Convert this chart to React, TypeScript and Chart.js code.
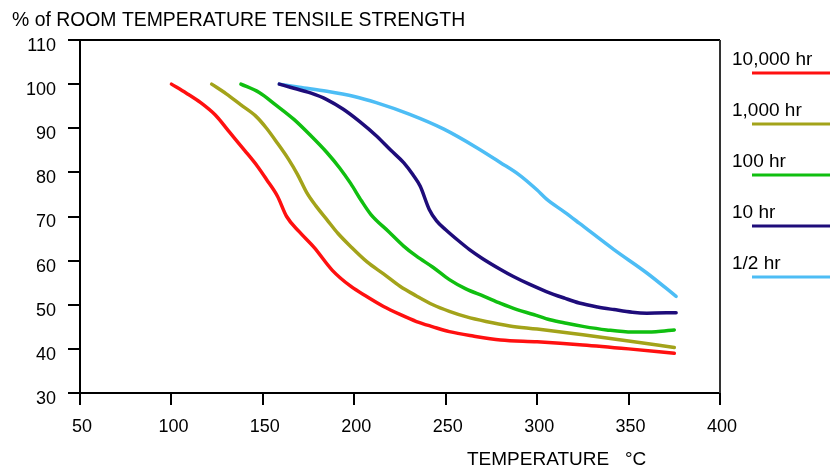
import React, { useEffect, useRef } from "react";
import { Chart, registerables } from "chart.js";

Chart.register(...registerables);

// Temperatures (°C) and % of room-temperature tensile strength per exposure time
const hr10000T = [100, 108, 116, 124, 132, 140, 147, 152, 158, 163, 170, 178, 188, 198, 207, 216, 225, 234, 243, 252, 265, 280, 300, 325, 350, 375];
const hr10000V = [100, 98, 95.8, 93, 89, 85, 81.4, 78.4, 74.6, 70, 66.5, 63, 57.8, 54.2, 51.8, 49.6, 47.8, 46.2, 45, 43.9, 42.9, 42, 41.6, 40.9, 40, 39];

const hr1000T = [122, 130, 138, 146, 152, 158, 164, 169, 174, 179, 185, 191, 198, 207, 216, 225, 234, 243, 252, 261, 272, 285, 300, 325, 350, 375];
const hr1000V = [100, 97.8, 95.3, 92.8, 90, 86.6, 83, 79.5, 75.4, 72.4, 69.3, 66.2, 63.2, 59.7, 57, 54.2, 52, 50, 48.5, 47.3, 46.2, 45.2, 44.5, 43.2, 41.8, 40.3];

const hr100T = [138, 148, 157, 167, 176, 185, 192, 198, 204, 209, 219, 227, 234, 243, 252, 261, 271, 280, 289, 298, 307, 316, 325, 338, 352, 365, 375];
const hr100V = [100, 98.1, 95.3, 92, 88.4, 84.5, 81, 77.5, 73.5, 70.5, 66.5, 63.3, 61, 58.5, 55.7, 53.6, 51.9, 50.3, 48.9, 47.8, 46.6, 45.8, 45.1, 44.3, 43.8, 43.9, 44.3];

const hr10T = [159, 165, 176, 185, 194, 203, 212, 220, 227, 232, 236, 241, 245, 250, 257, 263, 270, 280, 287, 296, 305, 315, 323, 333, 342, 352, 360, 376];
const hr10V = [100, 99.3, 98, 96.5, 94.3, 91.5, 88.3, 85, 82.2, 79.5, 76.9, 71.6, 69, 67, 64.5, 62.5, 60.5, 58, 56.4, 54.6, 53, 51.5, 50.4, 49.5, 48.9, 48.3, 48.1, 48.2];

const hrHalfT = [159, 170, 185, 200, 212, 230, 249, 267, 280, 290, 300, 305, 315, 323, 342, 360, 376];
const hrHalfV = [100, 99.3, 98.4, 97.2, 95.8, 93.2, 89.8, 85.6, 82.2, 79.5, 76, 74, 71, 68.5, 62.5, 57.2, 51.9];

const seriesLabels = ["10,000 hr", "1,000 hr", "100 hr", "10 hr", "1/2 hr"];
const seriesColors = ["#ff1010", "#a3a31a", "#10bf10", "#1e0c7a", "#4dbdf5"];

const xTicks = [50, 100, 150, 200, 250, 300, 350, 400];
const yTicks = [30, 40, 50, 60, 70, 80, 90, 100, 110];

const yTitle = "% of ROOM TEMPERATURE TENSILE STRENGTH";
const xTitle = "TEMPERATURE   °C";

const FONT = "'Liberation Sans', Arial, sans-serif";

const zip = (t: number[], v: number[]) => t.map((x, i) => ({ x, y: v[i] }));

export default function App() {
  const ref = useRef<HTMLCanvasElement | null>(null);

  useEffect(() => {
    if (!ref.current) return;
    const seriesT = [hr10000T, hr1000T, hr100T, hr10T, hrHalfT];
    const seriesV = [hr10000V, hr1000V, hr100V, hr10V, hrHalfV];

    const decor = {
      id: "decor",
      afterDraw(chart: any) {
        const { ctx, chartArea } = chart;
        ctx.save();
        // top & right frame
        ctx.strokeStyle = "#000";
        ctx.lineWidth = 2;
        ctx.beginPath();
        ctx.moveTo(chartArea.left, chartArea.top);
        ctx.lineTo(chartArea.right, chartArea.top);
        ctx.stroke();
        ctx.strokeStyle = "#333";
        ctx.beginPath();
        ctx.moveTo(chartArea.right, chartArea.top);
        ctx.lineTo(chartArea.right, chartArea.bottom);
        ctx.stroke();
        // titles
        ctx.fillStyle = "#000";
        ctx.font = `19.4px ${FONT}`;
        ctx.textBaseline = "middle";
        ctx.textAlign = "left";
        ctx.fillText(yTitle, 12, 21);
        ctx.font = `19px ${FONT}`;
        ctx.fillText(xTitle, 467, 460);
        // legend
        chart.data.datasets.forEach((ds: any, i: number) => {
          const ly = 73 + i * 51;
          ctx.fillStyle = "#000";
          ctx.fillText(ds.label, 732, ly - 13);
          ctx.strokeStyle = ds.borderColor;
          ctx.lineWidth = 3;
          ctx.beginPath();
          ctx.moveTo(752, ly);
          ctx.lineTo(832, ly);
          ctx.stroke();
        });
        ctx.restore();
      },
    };

    const chart = new Chart(ref.current, {
      type: "line",
      data: {
        datasets: seriesLabels.map((label, i) => ({
          label,
          data: zip(seriesT[i], seriesV[i]),
          borderColor: seriesColors[i],
          backgroundColor: seriesColors[i],
          borderWidth: 3.5,
          pointRadius: 0,
          cubicInterpolationMode: "monotone" as const,
          borderCapStyle: "round" as const,
          borderJoinStyle: "round" as const,
        })),
      },
      options: {
        animation: false,
        responsive: false,
        layout: { padding: { left: 0, right: 110, top: 40, bottom: 0 } },
        plugins: { legend: { display: false }, tooltip: { enabled: false }, title: { display: false } },
        scales: {
          x: {
            type: "linear",
            min: 50,
            max: 400,
            afterBuildTicks: (s: any) => { s.ticks = xTicks.map((v) => ({ value: v })); },
            afterFit: (s: any) => { s.height = 75; },
            grid: { drawOnChartArea: false, drawTicks: true, tickLength: 12, color: "#000", lineWidth: 2 },
            border: { display: true, color: "#000", width: 2 },
            ticks: { color: "#000", font: { family: FONT, size: 18 }, padding: 11, maxRotation: 0, labelOffset: 2 },
          },
          y: {
            type: "linear",
            min: 30,
            max: 110,
            afterBuildTicks: (s: any) => { s.ticks = yTicks.map((v) => ({ value: v })); },
            afterFit: (s: any) => { s.width = 80; },
            grid: { drawOnChartArea: false, drawTicks: true, tickLength: 12, color: "#000", lineWidth: 2 },
            border: { display: true, color: "#000", width: 2 },
            ticks: { color: "#000", font: { family: FONT, size: 18 }, padding: 12, labelOffset: 6 },
          },
        },
      },
      plugins: [decor],
    });
    return () => chart.destroy();
  }, []);

  return (
    <div style={{ position: "absolute", left: 0, top: 0, width: 830, height: 468, background: "#fff" }}>
      <canvas ref={ref} width={830} height={468} />
    </div>
  );
}
